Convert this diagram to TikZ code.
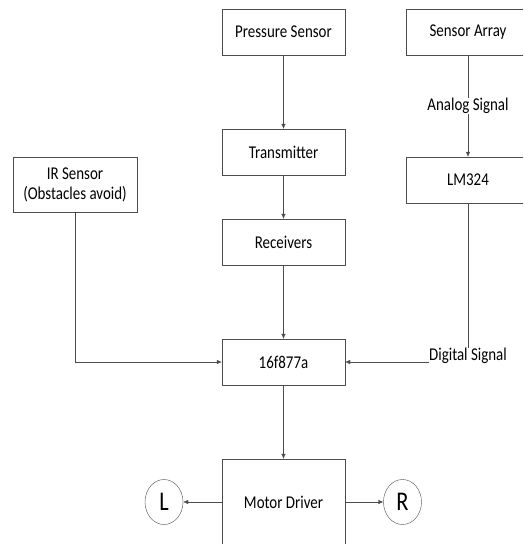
\documentclass[tikz,border=0pt]{standalone}
\usepackage{fontspec}
\setmainfont{Carlito}
\newfontfamily\tallfont[FakeStretch=0.83]{Carlito}
\usetikzlibrary{arrows.meta,shapes.geometric}

\begin{document}
\begin{tikzpicture}[x=1pt,y=-1pt,
    blk/.style={draw=black!70, minimum width=123pt, minimum height=46pt, inner sep=0pt, align=center, font=\tallfont\fontsize{18}{20}\selectfont},
    sig/.style={inner sep=0pt, font=\tallfont\fontsize{18}{20}\selectfont},
    wheel/.style={draw=black!70, ellipse, minimum width=38pt, minimum height=45pt, inner sep=0pt, font=\tallfont\fontsize{27}{30}\selectfont},
    conn/.style={draw=black!70, -{Latex[length=5pt,width=4.5pt]}},
    wire/.style={draw=black!70}]
    \useasboundingbox (0,0) rectangle (523,544);
    \clip (0,0) rectangle (523,544);

    % top row
    \node[blk] (press) at (283.5,32) {Pressure Sensor};
    \node[blk, minimum width=124pt] (array) at (468,32) {Sensor Array};

    % pressure chain
    \node[blk] (tx) at (283.5,152) {Transmitter};
    \node[blk] (rx) at (283.5,242) {Receivers};

    % side inputs
    \node[blk, minimum width=124pt, minimum height=55pt] (ir) at (75,184.5) {IR Sensor\\(Obstacles avoid)};
    \node[sig] (ana) at (468,106) {Analog Signal};
    \node[blk, minimum width=124pt] (lm) at (468,180) {LM324};
    \node[sig] (dig) at (468,356) {Digital Signal};

    % controller and outputs
    \node[blk] (mcu) at (283.5,362) {16f877a};
    \node[blk, minimum height=86pt] (drv) at (283.5,502) {Motor Driver};
    \node[wheel] (left) at (164,502) {L};
    \node[wheel] (right) at (402.5,502) {R};

    % connectors
    \draw[conn] (press) -- (tx);
    \draw[conn] (tx) -- (rx);
    \draw[conn] (rx) -- (mcu);
    \draw[wire] (array) -- (ana);
    \draw[conn] (ana) -- (lm);
    \draw[wire] (lm) -- (dig);
    \draw[conn] (dig.west |- mcu.east) -- (mcu.east);
    \draw[conn] (ir.south) |- (mcu.west);
    \draw[conn] (mcu) -- (drv);
    \draw[conn] (drv) -- (left);
    \draw[conn] (drv) -- (right);
\end{tikzpicture}
\end{document}
